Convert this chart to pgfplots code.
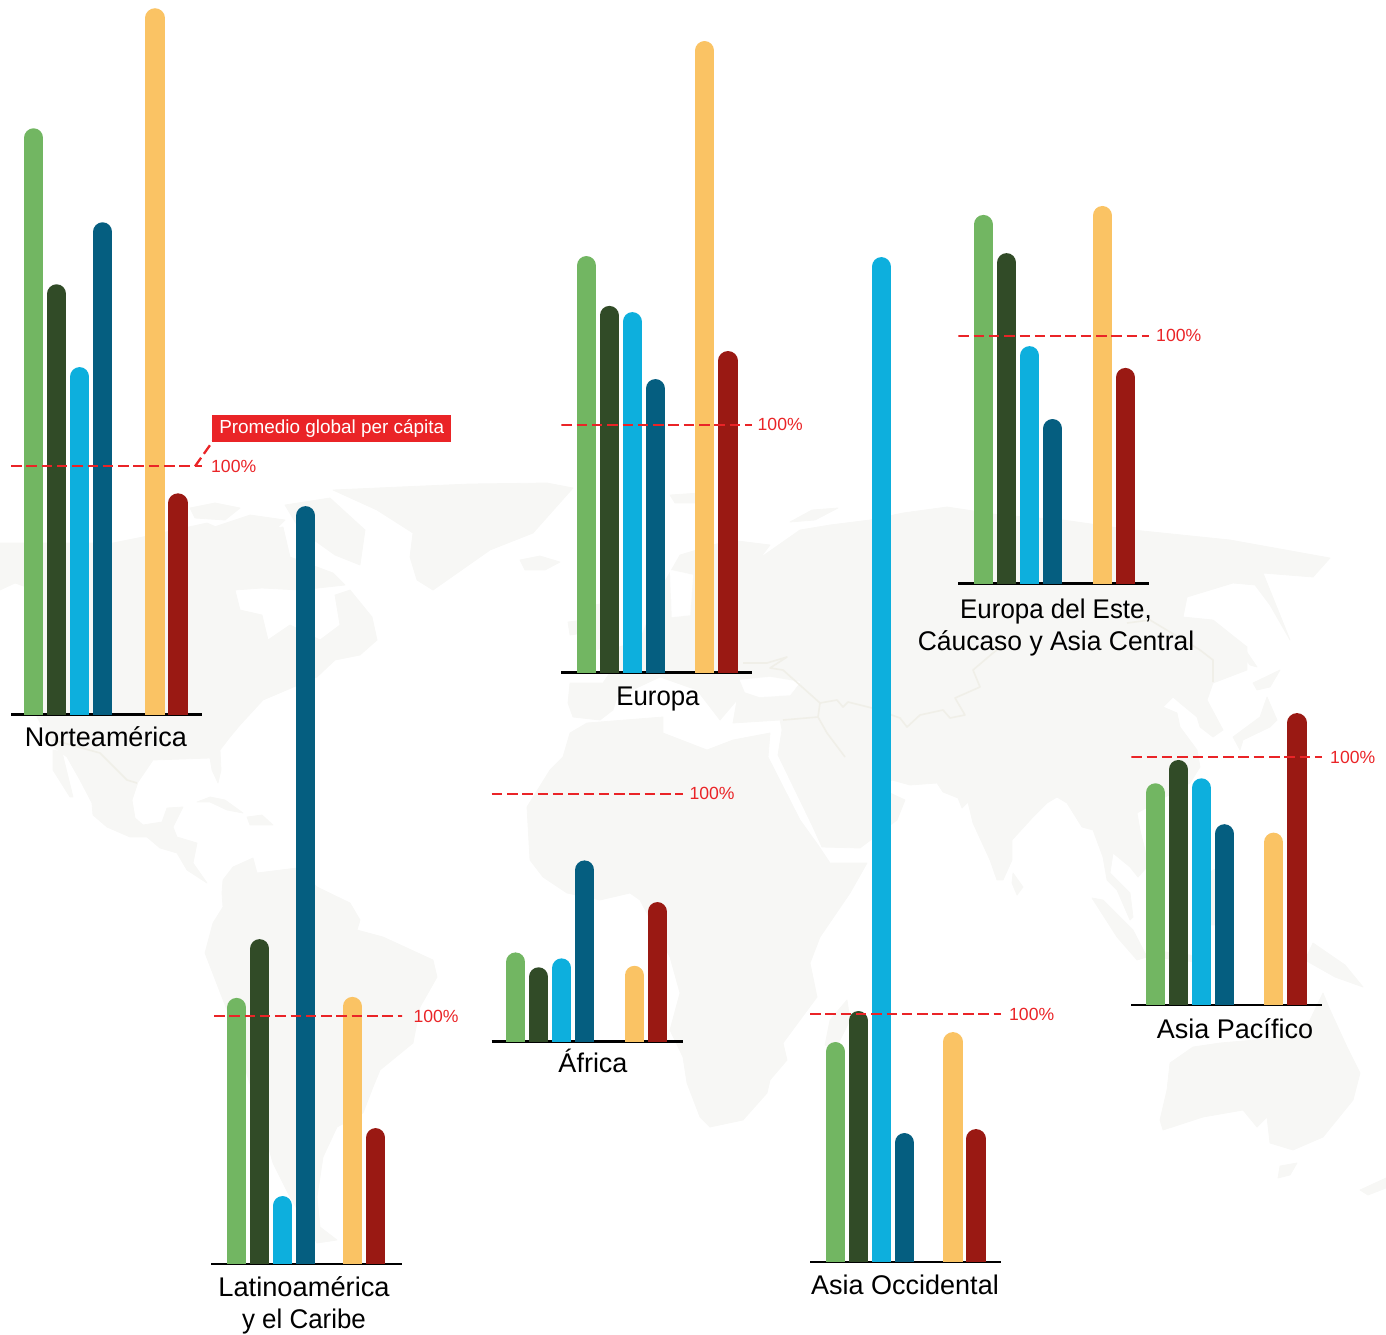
\documentclass[border=0pt]{standalone}
\usepackage{fontspec}
\setmainfont{Liberation Sans}
\usepackage{pgfplots}
\pgfplotsset{compat=1.18}

\definecolor{cGreen}{HTML}{72B662}
\definecolor{cForest}{HTML}{314B27}
\definecolor{cSky}{HTML}{0DAFDD}
\definecolor{cNavy}{HTML}{055E80}
\definecolor{cAmber}{HTML}{FAC364}
\definecolor{cCrimson}{HTML}{9A1913}
\definecolor{cRed}{HTML}{EA2427}
\definecolor{cLand}{HTML}{F7F7F5}
\definecolor{cBorder}{HTML}{F0EFE8}

% One percentage point of the global per-capita average is 2.48pt tall.
\pgfplotsset{
  region/.style={
    anchor=south west, x=1pt, y=2.48pt, ymin=0,
    axis x line=bottom, axis y line=none,
    xtick=\empty, ytick=\empty,
    x axis line style={-, line width=2.6pt, black},
    clip mode=individual,
  },
  column/.style={ycomb, draw=#1, line width=19.3pt, line cap=round,
    shorten >=9.65pt, mark=none, forget plot},
  average/.style={draw=cRed, line width=2.3pt, dash pattern=on 10.5pt off 4.8pt, forget plot},
  land/.style={fill=cLand, draw=cLand, line width=.8pt, line join=round, forget plot},
  sea/.style={fill=white, draw=white, line width=.5pt, line join=round, forget plot},
  frontier/.style={draw=cBorder, line width=1.6pt, line join=round, forget plot},
}
\newcommand{\pct}[1]{\node[text=cRed, font=\fontsize{17.6}{18}\selectfont, anchor=base west, inner sep=0pt] at #1 {100\%};}
\newcommand{\regionname}[3][1]{\node[font=\fontsize{27}{32}\selectfont\addfontfeature{FakeStretch=#1}, anchor=base, inner sep=0pt] at #2 {#3};}

\begin{document}
\begin{tikzpicture}
\path[use as bounding box] (0,0) rectangle (1386pt,1335pt);

% World map behind the regional panels
\begin{axis}[anchor=south west, at={(0,0)}, x=1pt, y=1pt, xmin=0, xmax=1386, ymin=0, ymax=1335,
             y dir=reverse, axis lines=none]
% North America
\addplot[land] coordinates {(0,543)(113,543)(143,537)(207,523)(230,533)(283,527)(290,557)(333,573)(345,585)(300,590)(262,588)(235,590)(240,610)(262,615)(268,640)(290,625)(320,640)(340,625)(335,595)(350,590)(372,617)(377,640)(360,655)(335,660)(317,677)(263,700)(240,725)(230,737)(220,750)(221,770)(218,783)(212,770)(210,758)(153,760)(138,782)(132,800)(135,818)(143,825)(162,822)(167,808)(183,807)(173,827)(177,837)(197,843)(193,863)(207,883)(187,870)(177,853)(160,848)(147,837)(130,837)(107,827)(93,815)(92,803)(80,780)(67,757)(55,748)(37,717)(30,640)(35,590)(15,583)(0,590)} -- cycle;
\addplot[land] coordinates {(53,750)(62,752)(73,797)(70,797)(53,770)} -- cycle;
\addplot[land] coordinates {(190,508)(215,503)(240,508)(225,520)(195,518)} -- cycle;
\addplot[land] coordinates {(205,530)(250,515)(285,520)(275,530)(225,535)} -- cycle;
\addplot[land] coordinates {(285,505)(330,498)(365,530)(360,565)(335,555)(300,530)} -- cycle;
\addplot[land] coordinates {(197,802)(210,797)(225,800)(243,813)(227,810)(210,802)} -- cycle;
\addplot[land] coordinates {(247,817)(262,815)(273,825)(250,825)} -- cycle;
% Greenland and Iceland
\addplot[land] coordinates {(333,490)(400,487)(470,484)(547,483)(573,488)(533,533)(490,550)(443,583)(433,590)(417,580)(410,557)(413,533)(377,510)} -- cycle;
\addplot[land] coordinates {(520,560)(540,556)(560,562)(545,570)(525,570)} -- cycle;
% South America
\addplot[land] coordinates {(223,880)(233,867)(253,858)(257,873)(297,868)(317,887)(350,903)(360,920)(357,930)(383,937)(433,960)(437,977)(420,1007)(413,1043)(380,1070)(373,1087)(363,1113)(337,1127)(323,1157)(317,1197)(320,1227)(337,1240)(317,1243)(290,1197)(273,1163)(255,1100)(227,1010)(205,953)(213,923)(223,907)(222,893)} -- cycle;
% Africa
\addplot[land] coordinates {(587,723)(663,717)(663,733)(707,750)(733,740)(770,733)(768,757)(800,820)(818,845)(830,863)(867,863)(850,893)(820,937)(810,963)(817,997)(783,1043)(787,1060)(770,1080)(767,1093)(743,1120)(710,1127)(700,1117)(687,1083)(683,1057)(670,1030)(680,993)(670,957)(640,900)(630,893)(600,900)(567,893)(543,877)(530,860)(527,807)(550,770)(563,757)(570,733)} -- cycle;
\addplot[land] coordinates {(847,1000)(850,1020)(835,1050)(825,1045)(830,1020)} -- cycle;
% Eurasia
\addplot[land] coordinates {(600,720)(573,717)(568,703)(570,683)(603,683)(615,665)(610,650)(640,640)(650,615)(665,610)(660,590)(680,555)(730,540)(770,545)(760,558)(800,530)(830,525)(870,520)(903,513)(947,507)(1000,515)(1063,520)(1133,530)(1230,540)(1330,558)(1313,577)(1263,573)(1290,640)(1270,605)(1255,585)(1233,583)(1187,597)(1183,617)(1213,620)(1247,647)(1247,670)(1213,683)(1207,700)(1223,730)(1213,737)(1200,727)(1197,717)(1180,703)(1173,697)(1163,707)(1177,713)(1180,727)(1197,750)(1200,767)(1190,783)(1137,813)(1140,830)(1145,850)(1147,867)(1138,877)(1130,867)(1113,853)(1110,873)(1130,893)(1133,917)(1130,920)(1117,890)(1107,880)(1103,857)(1093,830)(1082,827)(1067,803)(1057,797)(1047,803)(1033,817)(1012,840)(1012,860)(1003,880)(997,880)(990,860)(973,823)(968,802)(962,808)(958,798)(943,792)(937,783)(910,785)(892,780)(878,790)(890,793)(905,800)(897,820)(860,848)(822,847)(812,825)(778,755)(782,730)(780,720)(733,723)(737,700)(720,720)(697,690)(660,677)(617,697)(613,710)} -- cycle;
\addplot[sea] coordinates {(740,680)(770,677)(800,682)(790,695)(760,697)(745,692)} -- cycle;
\addplot[sea] coordinates {(670,570)(693,575)(690,615)(672,617)} -- cycle;
% Islands of the north and of Asia-Pacific
\addplot[land] coordinates {(670,495)(700,493)(695,503)(675,503)} -- cycle;
\addplot[land] coordinates {(790,522)(812,510)(838,508)(815,520)} -- cycle;
\addplot[land] coordinates {(568,622)(583,620)(583,633)(570,635)} -- cycle;
\addplot[land] coordinates {(595,605)(610,602)(618,645)(595,650)} -- cycle;
\addplot[land] coordinates {(1233,737)(1260,717)(1267,697)(1277,720)(1270,727)(1243,740)(1240,750)} -- cycle;
\addplot[land] coordinates {(1253,683)(1280,670)(1270,687)(1257,690)} -- cycle;
\addplot[land] coordinates {(1230,640)(1240,642)(1257,667)(1250,665)} -- cycle;
\addplot[land] coordinates {(1013,873)(1023,887)(1017,895)(1012,883)} -- cycle;
\addplot[land] coordinates {(1092,898)(1103,900)(1133,930)(1147,957)(1137,960)(1117,937)} -- cycle;
\addplot[land] coordinates {(1150,950)(1190,955)(1205,963)(1160,958)} -- cycle;
\addplot[land] coordinates {(1195,880)(1232,860)(1232,925)(1205,925)} -- cycle;
\addplot[land] coordinates {(1313,943)(1345,965)(1363,987)(1335,977)(1305,960)} -- cycle;
% Australia, Tasmania and New Zealand
\addplot[land] coordinates {(1170,1063)(1193,1047)(1220,1043)(1255,1040)(1290,1035)(1310,1020)(1323,993)(1330,1010)(1347,1047)(1360,1073)(1353,1100)(1323,1137)(1293,1150)(1270,1143)(1267,1117)(1257,1127)(1243,1110)(1203,1117)(1163,1130)(1160,1120)(1167,1090)} -- cycle;
\addplot[land] coordinates {(1280,1166)(1297,1163)(1290,1175)(1278,1178)} -- cycle;
\addplot[land] coordinates {(1360,1190)(1386,1178)(1386,1188)(1368,1195)} -- cycle;
% Frontiers
\addplot[frontier] coordinates {(53,740)(100,753)(127,780)(137,783)};
\addplot[frontier] coordinates {(743,663)(767,663)(787,657)(770,668)(783,670)(820,703)(837,700)(843,707)(848,702)(872,708)(900,718)(907,727)(920,715)(943,710)(950,718)(965,715)(955,698)(980,687)(973,670)(993,653)(1010,640)};
\addplot[frontier] coordinates {(1127,623)(1150,620)(1200,650)(1213,660)(1213,682)};
\addplot[frontier] coordinates {(820,703)(818,717)(783,720)};
\addplot[frontier] coordinates {(818,717)(827,733)(845,757)};
\end{axis}

% Norteamérica
\begin{axis}[region, at={(11pt,620.7pt)}, xmin=11, xmax=202, ymax=290]
\addplot[column=cGreen]   coordinates {(33.7,236.3)};
\addplot[column=cForest]  coordinates {(56.7,173.4)};
\addplot[column=cSky]     coordinates {(79.7,140.0)};
\addplot[column=cNavy]    coordinates {(102.7,198.4)};
\addplot[column=cAmber]   coordinates {(155,284.7)};
\addplot[column=cCrimson] coordinates {(178,89.1)};
\addplot[average] coordinates {(11,100)(202,100)};
\draw[cRed, line width=2.3pt, dash pattern=on 10.5pt off 4.8pt] (axis cs:195,100) -- (axis cs:213,110.2);
\pct{(axis cs:211,97.5)}
\regionname{(axis cs:106,-13)}{Norteamérica}
\node[anchor=south west, fill=cRed, text=white, minimum width=239pt, minimum height=27pt, inner sep=0pt,
      font=\fontsize{18.9}{19}\selectfont] at (axis cs:212,109.6) {Promedio global per cápita};
\end{axis}

% Latinoamérica y el Caribe
\begin{axis}[region, at={(211pt,71pt)}, xmin=211, xmax=402, ymax=310]
\addplot[column=cGreen]   coordinates {(236.7,107.3)};
\addplot[column=cForest]  coordinates {(259.7,131.0)};
\addplot[column=cSky]     coordinates {(282.7,27.4)};
\addplot[column=cNavy]    coordinates {(305.7,305.6)};
\addplot[column=cAmber]   coordinates {(352.3,107.7)};
\addplot[column=cCrimson] coordinates {(375.7,54.8)};
\addplot[average] coordinates {(214,100)(405,100)};
\pct{(axis cs:413.3,97.5)}
\regionname[1.01]{(axis cs:304,-13.2)}{Latinoamérica}
\regionname[.96]{(axis cs:304,-26.2)}{y el Caribe}
\end{axis}

% África
\begin{axis}[region, at={(491.7pt,293.3pt)}, xmin=491.7, xmax=683, ymax=105]
\addplot[column=cGreen]   coordinates {(515.7,36.0)};
\addplot[column=cForest]  coordinates {(538.7,30.0)};
\addplot[column=cSky]     coordinates {(561.7,33.6)};
\addplot[column=cNavy]    coordinates {(584.7,73.1)};
\addplot[column=cAmber]   coordinates {(634.3,30.6)};
\addplot[column=cCrimson] coordinates {(657.3,56.3)};
\addplot[average] coordinates {(491.7,100)(683,100)};
\pct{(axis cs:689.3,97.5)}
\regionname{(axis cs:593,-12.3)}{África}
\end{axis}

% Europa
\begin{axis}[region, at={(561.3pt,662.3pt)}, xmin=561.3, xmax=752.3, ymax=260]
\addplot[column=cGreen]   coordinates {(586.3,168.0)};
\addplot[column=cForest]  coordinates {(609.3,147.9)};
\addplot[column=cSky]     coordinates {(632.3,145.4)};
\addplot[column=cNavy]    coordinates {(655.3,118.4)};
\addplot[column=cAmber]   coordinates {(704.7,254.7)};
\addplot[column=cCrimson] coordinates {(728,129.7)};
\addplot[average] coordinates {(561.3,100)(752.3,100)};
\pct{(axis cs:757.5,97.5)}
\regionname[.955]{(axis cs:658,-13.2)}{Europa}
\end{axis}

% Asia Occidental
\begin{axis}[region, at={(810pt,73pt)}, xmin=810, xmax=1001, ymax=410]
\addplot[column=cGreen]   coordinates {(835.3,88.7)};
\addplot[column=cForest]  coordinates {(858.3,101.2)};
\addplot[column=cSky]     coordinates {(881.3,405.2)};
\addplot[column=cNavy]    coordinates {(904.3,52.0)};
\addplot[column=cAmber]   coordinates {(953,92.7)};
\addplot[column=cCrimson] coordinates {(976,53.6)};
\addplot[average] coordinates {(810,100)(1001,100)};
\pct{(axis cs:1009,97.5)}
\regionname{(axis cs:905,-13)}{Asia Occidental}
\end{axis}

% Europa del Este, Cáucaso y Asia Central
\begin{axis}[region, at={(958.3pt,751.3pt)}, xmin=958.3, xmax=1149.3, ymax=157]
\addplot[column=cGreen]   coordinates {(983.3,148.7)};
\addplot[column=cForest]  coordinates {(1006.7,133.3)};
\addplot[column=cSky]     coordinates {(1029.7,95.8)};
\addplot[column=cNavy]    coordinates {(1052.7,66.4)};
\addplot[column=cAmber]   coordinates {(1102.3,152.3)};
\addplot[column=cCrimson] coordinates {(1125.3,87.0)};
\addplot[average] coordinates {(958.3,100)(1149.3,100)};
\pct{(axis cs:1156,97.5)}
\regionname[.96]{(axis cs:1056,-13.9)}{Europa del Este,}
\regionname[.98]{(axis cs:1056,-26.9)}{Cáucaso y Asia Central}
\end{axis}

% Asia Pacífico
\begin{axis}[region, at={(1131.3pt,330pt)}, xmin=1131.3, xmax=1322.3, ymax=122]
\addplot[column=cGreen]   coordinates {(1155.3,89.4)};
\addplot[column=cForest]  coordinates {(1178.3,98.8)};
\addplot[column=cSky]     coordinates {(1201.3,91.4)};
\addplot[column=cNavy]    coordinates {(1224.3,72.9)};
\addplot[column=cAmber]   coordinates {(1273.7,69.5)};
\addplot[column=cCrimson] coordinates {(1297,117.7)};
\addplot[average] coordinates {(1131.3,100)(1322.3,100)};
\pct{(axis cs:1330,97.5)}
\regionname{(axis cs:1235,-13.4)}{Asia Pacífico}
\end{axis}
\end{tikzpicture}
\end{document}
